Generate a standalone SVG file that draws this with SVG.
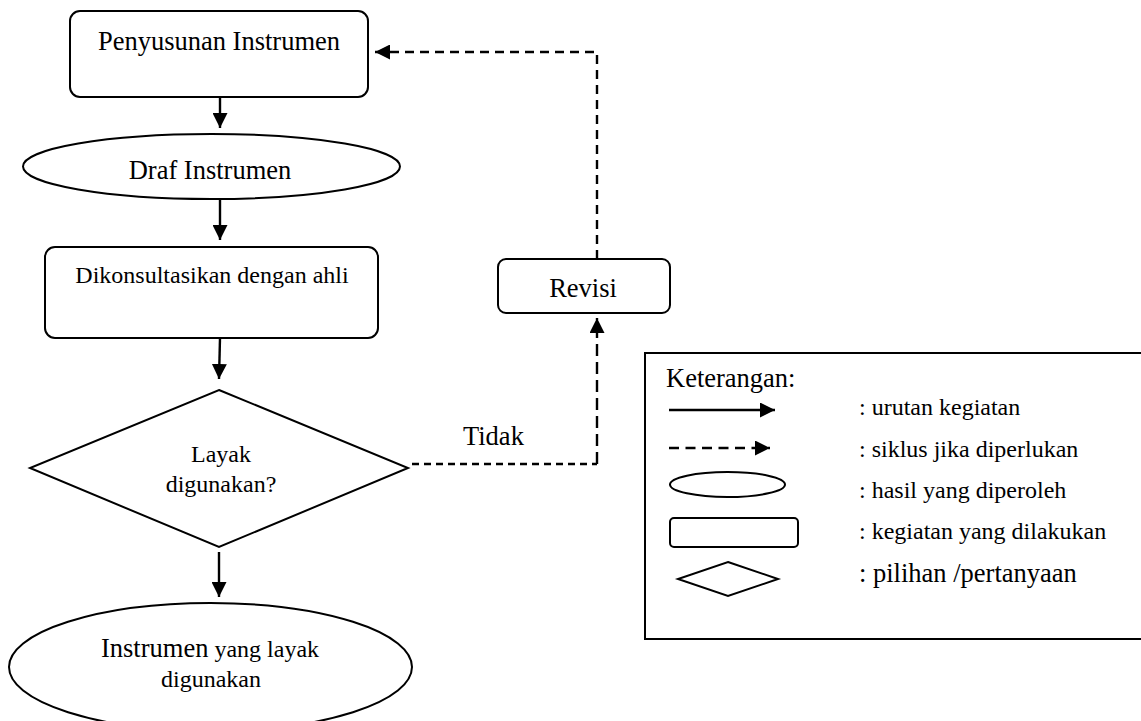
<svg xmlns="http://www.w3.org/2000/svg" width="1141" height="721" viewBox="0 0 1141 721">
<style>
  .shape { fill: #ffffff; stroke: #000000; stroke-width: 2; }
  .t { font-family: "Liberation Serif", "Times New Roman", serif; fill: #000000; }
  .big { font-size: 26.5px; }
  .sm { font-size: 24px; }
  .mid { text-anchor: middle; }
  .conn { fill: none; stroke: #000000; stroke-width: 2.4; }
  .dash1 { stroke-dasharray: 9 6; }
  .dash2 { stroke-dasharray: 7 5; }
  .dash3 { stroke-dasharray: 12 6; }
</style>
<defs>
  <marker id="ah" viewBox="0 0 15 15" markerWidth="15" markerHeight="15" refX="15" refY="7.5" orient="auto" markerUnits="userSpaceOnUse">
    <path d="M0,0 L15,7.5 L0,15 Z" fill="#000000"/>
  </marker>
</defs>
<rect width="1141" height="721" fill="#ffffff"/>

<g id="connectors">
  <line class="conn" x1="220" y1="97" x2="220" y2="128" marker-end="url(#ah)"/>
  <line class="conn" x1="220" y1="194" x2="220" y2="240" marker-end="url(#ah)"/>
  <line class="conn" x1="220" y1="338" x2="219" y2="379" marker-end="url(#ah)"/>
  <line class="conn" x1="219" y1="552" x2="219" y2="597" marker-end="url(#ah)"/>
  <path class="conn dash2" d="M412,464 L597,464"/>
  <path class="conn dash3" d="M597,464 L597,318" marker-end="url(#ah)"/>
  <path class="conn dash1" d="M597,259 L597,52 L375,52" marker-end="url(#ah)"/>
  <text class="t big" x="463" y="445">Tidak</text>
</g>

<g id="node-penyusunan">
  <rect class="shape" x="70" y="11" width="298" height="86" rx="10"/>
  <text class="t big mid" x="219" y="50">Penyusunan Instrumen</text>
</g>

<g id="node-draf">
  <ellipse class="shape" cx="211.5" cy="166.5" rx="188.5" ry="32.5"/>
  <text class="t big mid" x="210" y="179">Draf Instrumen</text>
</g>

<g id="node-konsultasi">
  <rect class="shape" x="45" y="247" width="333" height="91" rx="10"/>
  <text class="t sm mid" x="212" y="283">Dikonsultasikan dengan ahli</text>
</g>

<g id="node-layak">
  <polygon class="shape" points="219,390 408,468 219,547 30,468"/>
  <text class="t sm mid" x="221" y="462">Layak</text>
  <text class="t sm mid" x="221" y="492">digunakan?</text>
</g>

<g id="node-hasil">
  <ellipse class="shape" cx="210.5" cy="667" rx="201.5" ry="64"/>
  <text class="t mid" x="210" y="657"><tspan class="big">Instrumen</tspan><tspan class="sm"> yang layak</tspan></text>
  <text class="t sm mid" x="211" y="687">digunakan</text>
</g>

<g id="node-revisi">
  <rect class="shape" x="498" y="259" width="172" height="54" rx="8"/>
  <text class="t big mid" x="583" y="297">Revisi</text>
</g>

<g id="legend">
  <rect class="shape" x="645" y="353" width="510" height="286"/>
  <text class="t big" x="666" y="387">Keterangan:</text>
  <line class="conn" x1="669" y1="410" x2="775" y2="410" marker-end="url(#ah)"/>
  <line class="conn" x1="669" y1="448" x2="770" y2="448" stroke-dasharray="10 6.5" marker-end="url(#ah)"/>
  <ellipse class="shape" cx="727.5" cy="484.5" rx="57.5" ry="12.5"/>
  <rect class="shape" x="670" y="518" width="128" height="29" rx="4"/>
  <polygon class="shape" points="728,562 778,579 728,596 678,579"/>
  <text class="t sm" x="859" y="415">: urutan kegiatan</text>
  <text class="t sm" x="859" y="457">: siklus jika diperlukan</text>
  <text class="t sm" x="859" y="498">: hasil yang diperoleh</text>
  <text class="t sm" x="859" y="539">: kegiatan yang dilakukan</text>
  <text class="t big" x="859" y="582">: pilihan /pertanyaan</text>
</g>
</svg>
